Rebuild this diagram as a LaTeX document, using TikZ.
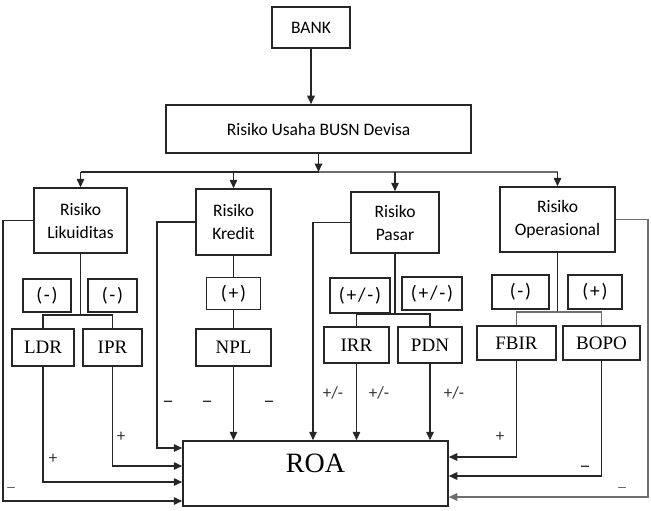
\documentclass[tikz,border=0pt]{standalone}
\usepackage{fontspec}
\setmainfont{Liberation Serif}
\newfontfamily\calfont{Carlito}
\newfontfamily\calspaced{Carlito}[LetterSpace=9]
\usetikzlibrary{arrows.meta}
\definecolor{ln}{HTML}{262626}
\definecolor{lg}{HTML}{6E6E6E}
\definecolor{tx}{HTML}{333333}
\tikzset{
  box/.style={draw=ln, line width=1.5pt, fill=white, inner sep=0pt, anchor=center, text=black},
  riskbox/.style={box, font=\calfont\fontsize{17.5}{23}\selectfont, align=center},
  signbox/.style={box, font=\calspaced\fontsize{19.5}{22}\selectfont},
  varbox/.style={box, font=\fontsize{19}{22}\selectfont},
  con/.style={draw=ln, line width=1.5pt},
  arr/.style={con, -{Triangle[length=8.5pt,width=7.5pt]}},
  lbl/.style={inner sep=0pt, text=tx, font=\calfont\fontsize{17}{17}\selectfont},
  dsh/.style={inner sep=0pt, text=black, font=\bfseries\fontsize{16}{16}\selectfont},
  tdsh/.style={inner sep=0pt, text=tx, font=\fontsize{15}{16}\selectfont},
}
\begin{document}
\begin{tikzpicture}[x=1pt,y=-1pt]
\useasboundingbox (0,0) rectangle (651,511);
\fill[white] (0,0) rectangle (651,511);

% boxes
\node[riskbox, minimum width=78pt, minimum height=41pt] (bank) at (311,27.5) {BANK};
\node[riskbox, minimum width=305pt, minimum height=48pt] (usaha) at (318.5,129) {Risiko Usaha BUSN Devisa};
\node[riskbox, minimum width=93pt, minimum height=65pt] (lik) at (80.5,220.5) {Risiko\\Likuiditas};
\node[riskbox, minimum width=75pt, minimum height=66pt] (kre) at (233.5,222) {Risiko\\Kredit};
\node[riskbox, minimum width=88pt, minimum height=61pt] (pas) at (395,222.5) {Risiko\\Pasar};
\node[riskbox, minimum width=115pt, minimum height=65pt] (ops) at (557.5,219.5) {Risiko\\Operasional};

\node[signbox, minimum width=48pt, minimum height=33pt] (s1) at (47,295.5) {(-)};
\node[signbox, minimum width=49pt, minimum height=33pt] (s2) at (112.5,295.5) {(-)};
\node[signbox, minimum width=54pt, minimum height=32pt] (s3) at (233.5,293.5) {(+)};
\node[signbox, minimum width=60pt, minimum height=35pt] (s4) at (360,295.5) {(+/-)};
\node[signbox, minimum width=60pt, minimum height=33pt] (s5) at (432,293.5) {(+/-)};
\node[signbox, minimum width=57pt, minimum height=34pt] (s6) at (520.5,292) {(-)};
\node[signbox, minimum width=54pt, minimum height=34pt] (s7) at (595,292) {(+)};

\node[varbox, minimum width=62pt, minimum height=37pt] (ldr) at (43,347.5) {LDR};
\node[varbox, minimum width=59pt, minimum height=37pt] (ipr) at (112.5,347.5) {IPR};
\node[varbox, minimum width=75pt, minimum height=37pt] (npl) at (233.5,347.5) {NPL};
\node[varbox, minimum width=65pt, minimum height=36pt] (irr) at (356.5,345) {IRR};
\node[varbox, minimum width=64pt, minimum height=36pt] (pdn) at (430,345) {PDN};
\node[varbox, minimum width=79pt, minimum height=34pt] (fbir) at (516.5,343) {FBIR};
\node[varbox, minimum width=77pt, minimum height=34pt] (bopo) at (601.5,343) {BOPO};

\node[box, minimum width=265pt, minimum height=65pt] (roa) at (315.5,473.5) {};
\node[inner sep=0pt, font=\fontsize{28}{30}\selectfont] (roat) at (315.5,463) {ROA};

% coordinates
\coordinate (top) at (318.5,172);
\coordinate (bL) at (lik.north |- top);
\coordinate (bR) at (ops.north |- top);
\coordinate (jl) at (80.5,315);
\coordinate (jp) at (395,314);
\coordinate (jo) at (557.5,312);
\coordinate (c1) at (3,501);
\coordinate (c2) at (157,448);
\coordinate (c3) at (648,497);
\coordinate (xP) at (313,0);
\coordinate (yIPR) at (0,466);
\coordinate (yLDR) at (0,482);
\coordinate (yF) at (0,457);
\coordinate (yB) at (0,476);

% top connectors
\draw[arr] (bank.south) -- (bank.south |- usaha.north);
\draw[arr] (usaha.south) -- (top);
\draw[con] (bL) -- (top);
\draw[con, draw=lg] (top) -- (bR);
\draw[arr] (bL) -- (lik.north);
\draw[arr] (kre.north |- top) -- (kre.north);
\draw[arr] (pas.north |- top) -- (pas.north);
\draw[arr] (bR) -- (ops.north);

% sub trees
\draw[con] (lik.south) -- (jl);
\draw[con] (ldr.north) |- (jl) -| (ipr.north);
\draw[con] (kre.south) -- (s3.north);
\draw[con] (s3.south) -- (npl.north);
\draw[con] (pas.south) -- (jp);
\draw[con] (irr.north) |- (jp) -| (pdn.north);
\draw[con] (ops.south) -- (jo);
\draw[con, draw=lg] (fbir.north) |- (jo) -| (bopo.north);

% into ROA
\draw[arr] (lik.west) -| (c1) -- (c1 -| roa.west);
\draw[arr] (kre.west) -| (c2) -- (c2 -| roa.west);
\draw[arr] (ipr.south) |- (roa.west |- yIPR);
\draw[arr] (ldr.south) |- (roa.west |- yLDR);
\draw[arr] (npl.south) -- (npl.south |- roa.north);
\draw[arr] (pas.west) -| (roa.north -| xP);
\draw[arr] (irr.south) -- (irr.south |- roa.north);
\draw[arr] (pdn.south) -- (pdn.south |- roa.north);
\draw[arr] (fbir.south) |- (roa.east |- yF);
\draw[arr] (bopo.south) |- (roa.east |- yB);
\draw[arr, draw=lg] (ops.east) -| (c3) -- (c3 -| roa.east);

% labels
\node[dsh] (d1) at (168,403) {--};
\node[dsh] (d2) at (207,403) {--};
\node[dsh] (d3) at (269,403) {--};
\node[lbl] (p1) at (121,437) {+};
\node[lbl] (p2) at (53,459) {+};
\node[tdsh] (d4) at (11,490) {--};
\node[lbl] (pm1) at (333,393) {+/-};
\node[lbl] (pm2) at (379,393) {+/-};
\node[lbl] (pm3) at (454,393) {+/-};
\node[lbl] (p3) at (500,437) {+};
\node[dsh] (d5) at (585,468) {--};
\node[tdsh] (d6) at (622,490) {--};
\end{tikzpicture}
\end{document}
